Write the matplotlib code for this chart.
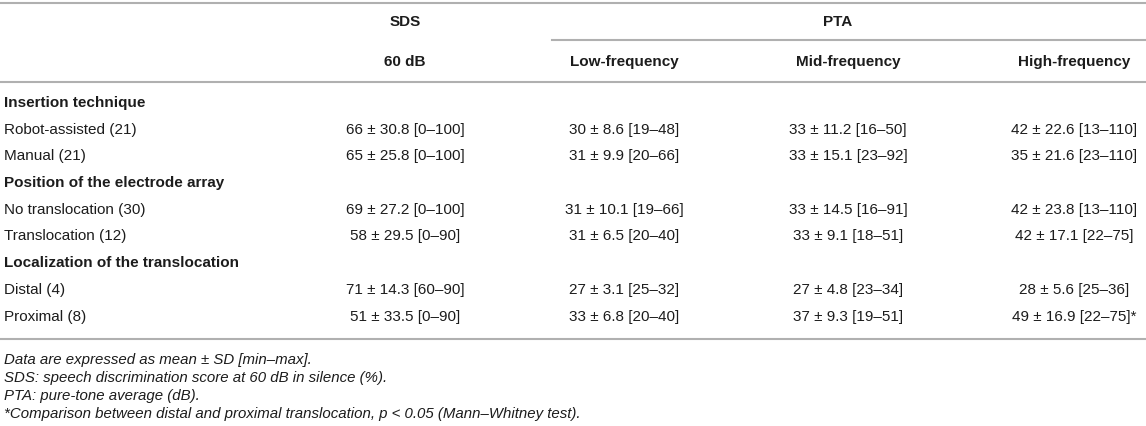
import matplotlib
matplotlib.use("Agg")
import matplotlib.pyplot as plt

plt.rcParams['font.family'] = ['Liberation Sans', 'DejaVu Sans']

# ---- data ----
groups = ["Insertion technique", "Position of the electrode array", "Localization of the translocation"]
rows = [
    ["Robot-assisted (21)", "Manual (21)"],
    ["No translocation (30)", "Translocation (12)"],
    ["Distal (4)", "Proximal (8)"],
]
top_headers = ["SDS", "PTA"]
col_headers = ["60 dB", "Low-frequency", "Mid-frequency", "High-frequency"]

# per column: mean, sd, min, max for the 6 rows (order as in rows)
sds_mean = [66, 65, 69, 58, 71, 51]
sds_sd = [30.8, 25.8, 27.2, 29.5, 14.3, 33.5]
sds_min = [0, 0, 0, 0, 60, 0]
sds_max = [100, 100, 100, 90, 90, 90]

low_mean = [30, 31, 31, 31, 27, 33]
low_sd = [8.6, 9.9, 10.1, 6.5, 3.1, 6.8]
low_min = [19, 20, 19, 20, 25, 20]
low_max = [48, 66, 66, 40, 32, 40]

mid_mean = [33, 33, 33, 33, 27, 37]
mid_sd = [11.2, 15.1, 14.5, 9.1, 4.8, 9.3]
mid_min = [16, 23, 16, 18, 23, 19]
mid_max = [50, 92, 91, 51, 34, 51]

high_mean = [42, 35, 42, 42, 28, 49]
high_sd = [22.6, 21.6, 23.8, 17.1, 5.6, 16.9]
high_min = [13, 23, 13, 22, 25, 22]
high_max = [110, 110, 110, 75, 36, 75]
high_flag = ["", "", "", "", "", "*"]

footnotes = [
    "Data are expressed as mean \u00b1 SD [min\u2013max].",
    "SDS: speech discrimination score at 60 dB in silence (%).",
    "PTA: pure-tone average (dB).",
    "*Comparison between distal and proximal translocation, p < 0.05 (Mann\u2013Whitney test).",
]

columns = [
    (sds_mean, sds_sd, sds_min, sds_max, [""] * 6),
    (low_mean, low_sd, low_min, low_max, [""] * 6),
    (mid_mean, mid_sd, mid_min, mid_max, [""] * 6),
    (high_mean, high_sd, high_min, high_max, high_flag),
]

# ---- layout ----
W, H = 1146, 427
fig = plt.figure(figsize=(W / 100, H / 100), dpi=100)
ax = fig.add_axes([0, 0, 1, 1])
ax.set_xlim(0, W)
ax.set_ylim(H, 0)
ax.axis("off")

txt = "#1c1c1c"
line_c = "#b0b0b0"
fs = 11
col_x = [405, 624, 848, 1074]
pta_x = 838

# rules
ax.plot([0, W], [4, 4], color=line_c, lw=1.5)
ax.plot([552, W], [41, 41], color=line_c, lw=1.5)
ax.plot([0, W], [83, 83], color=line_c, lw=1.5)
ax.plot([0, W], [340, 340], color=line_c, lw=1.5)

# headers
ax.text(col_x[0], 22, top_headers[0], ha="center", va="center", fontsize=fs, fontweight="bold", color=txt)
ax.text(pta_x, 22, top_headers[1], ha="center", va="center", fontsize=fs, fontweight="bold", color=txt)
for x, h in zip(col_x, col_headers):
    ax.text(x, 62, h, ha="center", va="center", fontsize=fs, fontweight="bold", color=txt)

# body
y = 103
step = 26.7
ri = 0
for g, rlist in zip(groups, rows):
    ax.text(4, y, g, ha="left", va="center", fontsize=fs, fontweight="bold", color=txt)
    y += step
    for r in rlist:
        ax.text(4, y, r, ha="left", va="center", fontsize=fs, color=txt)
        for x, (m, s, mn, mx, fl) in zip(col_x, columns):
            ax.text(x, y, f"{m[ri]} \u00b1 {s[ri]} [{mn[ri]}\u2013{mx[ri]}]{fl[ri]}",
                    ha="center", va="center", fontsize=fs, color=txt)
        ri += 1
        y += step

fy = 360
for f in footnotes:
    ax.text(4, fy, f, ha="left", va="center", fontsize=10.8, style="italic", color=txt)
    fy += 18

fig.savefig("out.png", dpi=100)
